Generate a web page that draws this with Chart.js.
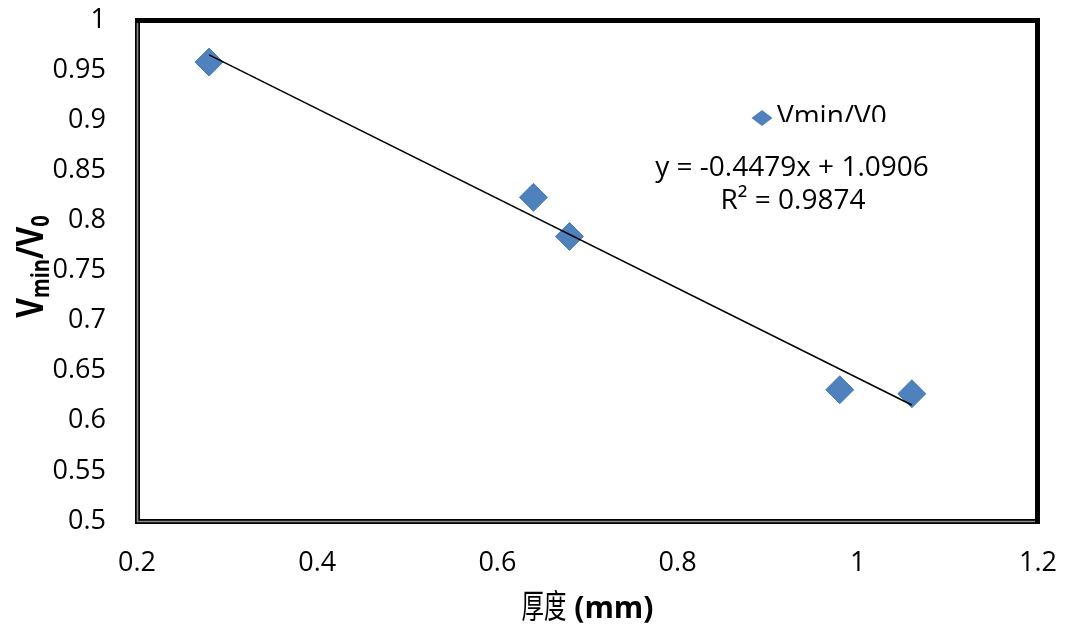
<!DOCTYPE html>
<html>
<head>
<meta charset="utf-8">
<script src="https://cdn.jsdelivr.net/npm/chart.js@4.4.0/dist/chart.umd.min.js"></script>
<style>
  html,body{margin:0;padding:0;background:#fff;}
  #wrap{width:1067px;height:628px;}
</style>
</head>
<body>
<div id="wrap"><canvas id="chart" width="1067" height="628"></canvas></div>
<script>
// Measured thickness (mm) vs. Vmin/V0
const thickness = [0.28, 0.64, 0.68, 0.98, 1.06];
const vRatio = [0.958, 0.823, 0.784, 0.631, 0.627];

// Linear fit reported on the chart
const fitSlope = -0.4479;
const fitIntercept = 1.0906;
const fitText = 'y = -0.4479x + 1.0906';
const r2Text = 'R² = 0.9874';
const seriesName = 'Vmin/V0';

// Axis ranges
const xMin = 0.2, xMax = 1.2, xStep = 0.2;
const yMin = 0.5, yMax = 1, yStep = 0.05;

const BLUE = '#4F81BD';
const TICK_FONT = '"Open Sans", "DejaVu Sans", sans-serif';

const points = thickness.map((x,i)=>({x, y: vRatio[i]}));
const fitXs = [Math.min(...thickness), Math.max(...thickness)];
const fitLine = fitXs.map(x=>({x, y: fitSlope*x + fitIntercept}));

// Plot frame: heavy black top/right, black-grey-black on left/bottom
const framePlugin = {
  id:'frame',
  afterDraw(chart){
    const {ctx, chartArea:a} = chart;
    ctx.save();
    ctx.lineCap = 'square';
    ctx.strokeStyle = '#000';
    ctx.lineWidth = 5;
    ctx.beginPath();
    ctx.moveTo(a.left+0.5, a.top+0.5);
    ctx.lineTo(a.right-0.5, a.top+0.5);
    ctx.lineTo(a.right-0.5, a.bottom+0.5);
    ctx.lineTo(a.left+0.5, a.bottom+0.5);
    ctx.closePath();
    ctx.stroke();
    ctx.strokeStyle = '#8c8c8c';
    ctx.lineWidth = 1.6;
    ctx.lineCap = 'butt';
    ctx.beginPath();
    ctx.moveTo(a.left+0.5, a.top+3);
    ctx.lineTo(a.left+0.5, a.bottom+0.5);
    ctx.lineTo(a.right-3, a.bottom+0.5);
    ctx.stroke();
    ctx.restore();
  }
};

// Axis titles, legend entry and regression label
const labelsPlugin = {
  id:'labels',
  afterDraw(chart){
    const {ctx, chartArea:a} = chart;
    ctx.save();
    ctx.fillStyle = '#000';

    // y title: V_min / V_0, rotated
    const big = 'bold 38px "Open Sans", sans-serif';
    const small = 'bold 25px "Open Sans", sans-serif';
    const parts = [
      {t:'V', f:big, dy:0},
      {t:'min', f:small, dy:6},
      {t:'/V', f:big, dy:0},
      {t:'0', f:small, dy:6}
    ];
    const sx = 0.8;
    let total = 0;
    parts.forEach(p=>{ ctx.font = p.f; p.w = ctx.measureText(p.t).width; total += p.w; });
    ctx.translate(43, (a.top+a.bottom)/2 - 4);
    ctx.rotate(-Math.PI/2);
    ctx.scale(sx, 1);
    ctx.textBaseline = 'alphabetic';
    let cx = -total/2;
    parts.forEach(p=>{ ctx.font = p.f; ctx.fillText(p.t, cx, p.dy); cx += p.w; });
    ctx.restore();

    // x title: 厚度 (mm)
    ctx.save();
    const cjkFont = '33px "Noto Sans CJK SC", sans-serif';
    const latFont = 'bold 30px "Open Sans", sans-serif';
    const cjk = '厚度', lat = ' (mm)';
    const cjkScale = 0.68;
    ctx.font = cjkFont; const wc = ctx.measureText(cjk).width * cjkScale;
    ctx.font = latFont; const wl = ctx.measureText(lat).width;
    const startX = (a.left+a.right)/2 - (wc+wl)/2;
    const baseY = 618;
    ctx.textBaseline = 'alphabetic';
    ctx.save();
    ctx.translate(startX, baseY);
    ctx.scale(cjkScale, 1);
    ctx.font = cjkFont;
    ctx.fillText(cjk, 0, 0);
    ctx.restore();
    ctx.font = latFont;
    ctx.fillText(lat, startX + wc, baseY);
    ctx.restore();

    // legend entry (box clips the text bottom)
    ctx.save();
    ctx.fillStyle = BLUE;
    ctx.beginPath();
    ctx.moveTo(762, 110);
    ctx.lineTo(772.5, 118);
    ctx.lineTo(762, 126);
    ctx.lineTo(751.5, 118);
    ctx.closePath();
    ctx.fill();
    ctx.beginPath();
    ctx.rect(774, 95, 140, 27);
    ctx.clip();
    ctx.fillStyle = '#000';
    ctx.font = '28px ' + TICK_FONT;
    ctx.textAlign = 'left';
    ctx.textBaseline = 'alphabetic';
    ctx.fillText(seriesName, 777, 125);
    ctx.restore();

    // regression equation and R²
    ctx.save();
    ctx.fillStyle = '#000';
    ctx.font = '28px ' + TICK_FONT;
    ctx.textAlign = 'center';
    ctx.textBaseline = 'alphabetic';
    ctx.fillText(fitText, 792, 176);
    ctx.fillText(r2Text, 793, 209);
    ctx.restore();
  }
};

// drop the automatic label overhang so the plot box sits where layout padding puts it
function noOverhang(s){
  s.paddingTop = 0; s.paddingBottom = 0; s.paddingLeft = 0; s.paddingRight = 0;
}

function draw(){
  new Chart(document.getElementById('chart'), {
    type:'scatter',
    data:{
      datasets:[
        {
          label:'fit',
          data: fitLine,
          showLine:true,
          borderColor:'#000',
          borderWidth:1.6,
          pointRadius:0,
          fill:false,
          order:0
        },
        {
          label: seriesName,
          data: points,
          pointStyle:'rectRot',
          pointRadius:14,
          backgroundColor: BLUE,
          borderColor: '#4A7EBB',
          borderWidth:1,
          order:1
        }
      ]
    },
    options:{
      responsive:false,
      animation:false,
      events:[],
      layout:{padding:{left:0, right:29, top:20, bottom:0}},
      plugins:{legend:{display:false}, tooltip:{enabled:false}, title:{display:false}},
      scales:{
        x:{
          type:'linear', min:xMin, max:xMax,
          grid:{display:false, drawTicks:false},
          border:{display:false},
          ticks:{
            stepSize:xStep, padding:26, color:'#000',
            font:{family:TICK_FONT, size:27},
            callback:v=>String(Number(v.toFixed(1)))
          },
          afterFit:s=>{ s.height = 107; noOverhang(s); }
        },
        y:{
          type:'linear', min:yMin, max:yMax,
          grid:{display:false, drawTicks:false},
          border:{display:false},
          ticks:{
            stepSize:yStep, padding:31, color:'#000',
            font:{family:TICK_FONT, size:27},
            callback:v=>String(Number(v.toFixed(2)))
          },
          afterFit:s=>{ s.width = 137; noOverhang(s); }
        }
      }
    },
    plugins:[framePlugin, labelsPlugin]
  });
}

const fontsReady = document.fonts ? Promise.all([
  document.fonts.load('27px "Open Sans"'),
  document.fonts.load('bold 30px "Open Sans"'),
  document.fonts.load('33px "Noto Sans CJK SC"', '厚度')
]).catch(()=>{}) : Promise.resolve();
fontsReady.then(draw);
</script>
</body>
</html>
